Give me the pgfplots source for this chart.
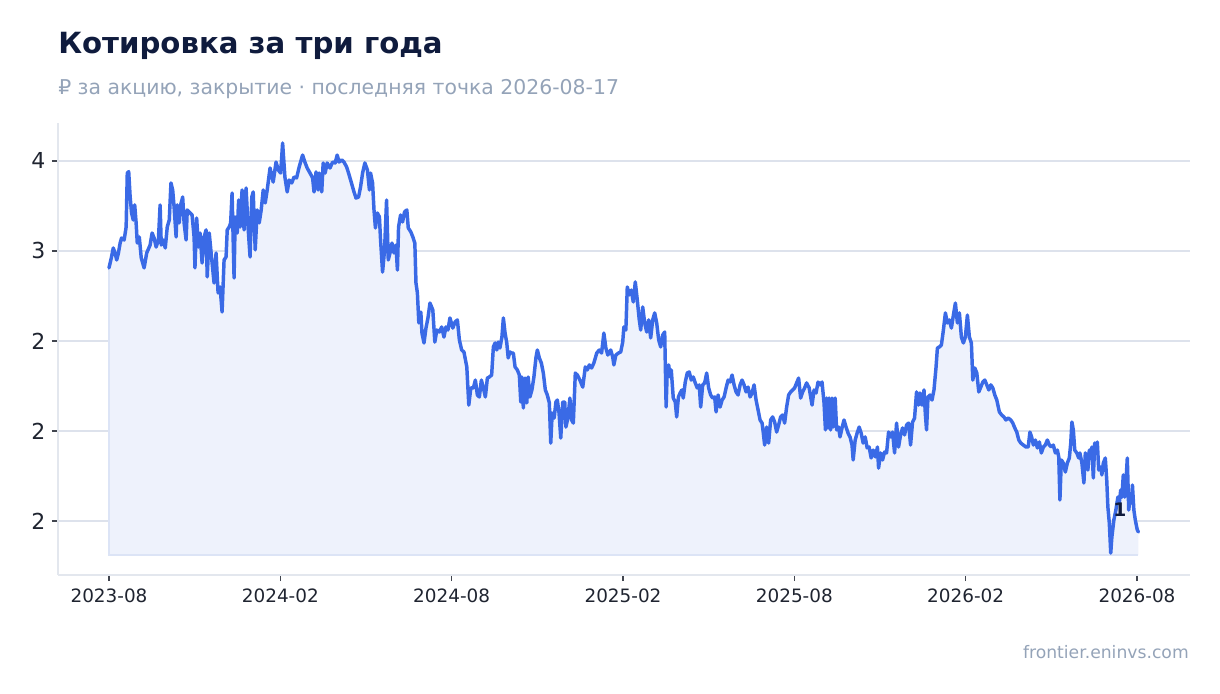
\documentclass[border=0pt]{standalone}
\usepackage{pgfplots}
\pgfplotsset{compat=1.18}
\usepackage{pgfplotstable}
\usepackage{fontspec}
\setmainfont{DejaVu Sans}
\definecolor{linec}{HTML}{3A6AE6}
\definecolor{fillc}{HTML}{EEF2FC}
\definecolor{gridc}{HTML}{DDE2EC}
\definecolor{axisc}{HTML}{E3E7EE}
\definecolor{titlec}{HTML}{0F1B3D}
\definecolor{subc}{HTML}{94A3B8}
\definecolor{tickc}{HTML}{1F2430}
\definecolor{baseedge}{HTML}{DCE4F6}

\pgfplotstableread{
x y
0.00 2.906
0.09 2.968
0.15 3.017
0.21 2.989
0.27 2.950
0.33 2.989
0.39 3.044
0.44 3.072
0.53 3.061
0.60 3.133
0.64 3.433
0.69 3.441
0.74 3.302
0.79 3.211
0.85 3.172
0.90 3.256
0.95 3.156
0.99 3.044
1.06 3.078
1.13 2.961
1.23 2.906
1.32 2.989
1.44 3.033
1.51 3.100
1.58 3.072
1.65 3.022
1.73 3.061
1.79 3.256
1.83 3.033
1.90 3.061
1.97 3.017
2.04 3.133
2.11 3.172
2.17 3.378
2.23 3.339
2.28 3.244
2.35 3.078
2.39 3.256
2.46 3.156
2.51 3.256
2.58 3.300
2.63 3.156
2.70 3.061
2.74 3.228
2.84 3.211
2.91 3.200
2.98 3.078
3.01 2.906
3.07 3.183
3.13 3.022
3.19 3.100
3.26 2.933
3.33 3.078
3.40 3.117
3.44 2.856
3.51 3.100
3.60 2.950
3.68 2.822
3.75 2.989
3.82 2.767
3.89 2.800
3.96 2.661
4.03 2.950
4.10 2.967
4.14 3.117
4.21 3.133
4.26 3.156
4.31 3.322
4.38 2.850
4.42 3.189
4.49 3.100
4.54 3.283
4.59 3.133
4.66 3.339
4.73 3.117
4.80 3.350
4.87 3.133
4.94 2.967
5.00 3.300
5.05 3.328
5.12 3.006
5.19 3.228
5.26 3.156
5.33 3.228
5.40 3.339
5.47 3.267
5.54 3.339
5.64 3.461
5.71 3.411
5.75 3.383
5.85 3.494
5.93 3.450
6.01 3.433
6.08 3.600
6.16 3.411
6.24 3.328
6.31 3.394
6.40 3.378
6.48 3.411
6.57 3.406
6.66 3.467
6.78 3.533
6.86 3.494
6.94 3.461
7.04 3.433
7.13 3.406
7.18 3.328
7.25 3.439
7.32 3.339
7.36 3.433
7.45 3.328
7.50 3.489
7.57 3.433
7.64 3.489
7.74 3.461
7.83 3.494
7.92 3.489
7.99 3.533
8.06 3.494
8.15 3.506
8.23 3.494
8.32 3.467
8.39 3.433
8.49 3.378
8.58 3.328
8.65 3.294
8.74 3.300
8.81 3.356
8.88 3.433
8.96 3.489
9.05 3.450
9.12 3.339
9.16 3.433
9.23 3.378
9.28 3.228
9.33 3.128
9.40 3.211
9.47 3.189
9.51 3.061
9.58 2.883
9.65 3.006
9.72 3.283
9.78 2.950
9.84 2.989
9.91 3.044
9.98 2.989
10.05 3.033
10.10 2.894
10.14 3.133
10.21 3.200
10.28 3.161
10.35 3.217
10.43 3.228
10.48 3.128
10.57 3.106
10.64 3.078
10.71 3.044
10.75 2.822
10.80 2.767
10.85 2.600
10.92 2.661
10.96 2.544
11.03 2.489
11.10 2.572
11.17 2.628
11.24 2.711
11.34 2.672
11.41 2.494
11.48 2.561
11.57 2.550
11.65 2.578
11.73 2.522
11.80 2.578
11.87 2.561
11.94 2.628
12.04 2.572
12.12 2.606
12.20 2.617
12.27 2.506
12.35 2.450
12.43 2.439
12.53 2.356
12.60 2.144
12.67 2.239
12.76 2.239
12.83 2.283
12.90 2.200
12.97 2.189
13.04 2.283
13.11 2.239
13.18 2.189
13.25 2.294
13.32 2.300
13.40 2.311
13.46 2.467
13.52 2.489
13.58 2.450
13.63 2.494
13.69 2.461
13.76 2.522
13.81 2.628
13.87 2.544
13.93 2.489
13.98 2.406
14.04 2.439
14.10 2.433
14.16 2.433
14.22 2.356
14.30 2.339
14.37 2.311
14.42 2.161
14.46 2.300
14.51 2.128
14.57 2.294
14.63 2.156
14.68 2.300
14.74 2.189
14.81 2.228
14.88 2.300
14.95 2.406
15.00 2.450
15.07 2.406
15.14 2.378
15.21 2.322
15.28 2.228
15.35 2.200
15.42 2.156
15.47 1.933
15.52 2.100
15.59 2.072
15.65 2.161
15.70 2.172
15.76 2.100
15.82 1.961
15.89 2.161
15.96 2.161
16.00 2.022
16.07 2.072
16.14 2.183
16.20 2.061
16.26 2.044
16.33 2.322
16.40 2.311
16.49 2.283
16.59 2.244
16.68 2.356
16.75 2.339
16.82 2.367
16.90 2.350
16.98 2.378
17.08 2.433
17.17 2.450
17.25 2.433
17.33 2.544
17.40 2.461
17.47 2.422
17.57 2.450
17.64 2.411
17.68 2.367
17.75 2.422
17.84 2.433
17.92 2.439
17.99 2.494
18.03 2.578
18.10 2.561
18.15 2.800
18.22 2.756
18.29 2.783
18.36 2.717
18.43 2.828
18.50 2.728
18.57 2.617
18.62 2.561
18.69 2.689
18.76 2.600
18.83 2.550
18.90 2.617
18.97 2.517
19.04 2.617
19.11 2.656
19.18 2.600
19.25 2.506
19.32 2.467
19.39 2.533
19.46 2.550
19.51 2.133
19.55 2.339
19.60 2.367
19.65 2.300
19.69 2.339
19.76 2.183
19.83 2.161
19.88 2.078
19.94 2.189
20.00 2.211
20.06 2.228
20.11 2.183
20.18 2.272
20.25 2.322
20.32 2.328
20.39 2.283
20.46 2.300
20.53 2.267
20.60 2.239
20.67 2.256
20.72 2.133
20.79 2.256
20.86 2.267
20.93 2.322
21.00 2.239
21.07 2.200
21.14 2.183
21.21 2.189
21.26 2.106
21.33 2.200
21.40 2.133
21.47 2.172
21.54 2.189
21.61 2.239
21.68 2.283
21.75 2.272
21.82 2.311
21.89 2.256
21.96 2.217
22.03 2.200
22.10 2.256
22.17 2.283
22.24 2.256
22.31 2.217
22.38 2.244
22.45 2.189
22.52 2.211
22.59 2.256
22.66 2.172
22.73 2.117
22.80 2.061
22.87 2.044
22.91 1.994
22.96 1.922
23.03 2.022
23.10 1.933
23.17 2.061
23.24 2.078
23.31 2.050
23.38 1.994
23.45 2.033
23.52 2.078
23.59 2.089
23.66 2.044
23.73 2.133
23.80 2.200
23.87 2.217
23.94 2.228
24.01 2.239
24.08 2.267
24.15 2.294
24.22 2.183
24.29 2.217
24.36 2.239
24.43 2.267
24.52 2.239
24.62 2.144
24.69 2.228
24.76 2.211
24.83 2.272
24.90 2.256
24.97 2.272
25.04 2.156
25.09 2.006
25.13 2.183
25.18 2.017
25.22 2.183
25.27 2.006
25.32 2.183
25.36 2.022
25.43 2.183
25.48 2.006
25.55 2.022
25.60 1.967
25.67 2.017
25.74 2.061
25.81 2.022
25.88 1.989
25.95 1.967
26.02 1.922
26.06 1.839
26.13 1.950
26.20 1.989
26.27 2.022
26.34 1.989
26.41 1.933
26.48 1.967
26.55 1.906
26.62 1.911
26.69 1.850
26.76 1.894
26.84 1.856
26.91 1.911
26.95 1.794
27.02 1.878
27.09 1.839
27.16 1.883
27.23 1.878
27.30 1.994
27.37 1.967
27.44 1.994
27.51 1.878
27.58 2.044
27.65 1.911
27.72 1.978
27.79 2.017
27.86 1.978
27.93 2.033
28.00 2.044
28.07 1.922
28.14 2.050
28.21 2.072
28.28 2.217
28.35 2.144
28.40 2.211
28.47 2.144
28.54 2.228
28.59 2.089
28.63 2.006
28.68 2.189
28.75 2.200
28.82 2.172
28.89 2.228
28.96 2.350
29.01 2.461
29.08 2.467
29.15 2.478
29.22 2.561
29.29 2.656
29.36 2.600
29.43 2.617
29.50 2.572
29.57 2.644
29.64 2.711
29.71 2.600
29.78 2.656
29.85 2.522
29.92 2.489
29.99 2.522
30.06 2.644
30.13 2.522
30.20 2.489
30.25 2.283
30.32 2.350
30.39 2.322
30.46 2.217
30.53 2.244
30.60 2.272
30.67 2.283
30.74 2.256
30.81 2.228
30.88 2.256
30.95 2.239
31.02 2.200
31.09 2.172
31.18 2.106
31.26 2.089
31.34 2.078
31.41 2.061
31.49 2.072
31.58 2.061
31.65 2.044
31.72 2.017
31.79 1.994
31.86 1.950
31.93 1.933
32.02 1.922
32.11 1.911
32.19 1.911
32.25 1.994
32.31 1.967
32.37 1.922
32.44 1.950
32.51 1.906
32.58 1.939
32.65 1.878
32.72 1.911
32.79 1.922
32.86 1.950
32.93 1.922
33.00 1.911
33.07 1.922
33.14 1.878
33.21 1.894
33.26 1.856
33.30 1.617
33.35 1.839
33.42 1.822
33.49 1.772
33.56 1.822
33.63 1.850
33.68 1.933
33.72 2.050
33.77 2.006
33.82 1.894
33.89 1.878
33.96 1.850
34.00 1.878
34.07 1.822
34.14 1.711
34.19 1.878
34.24 1.850
34.28 1.783
34.33 1.894
34.38 1.867
34.42 1.911
34.47 1.739
34.52 1.933
34.56 1.911
34.61 1.939
34.66 1.783
34.73 1.800
34.77 1.756
34.82 1.822
34.89 1.850
34.94 1.728
34.98 1.578
35.03 1.489
35.08 1.322
35.12 1.411
35.19 1.506
35.26 1.561
35.33 1.633
35.38 1.600
35.43 1.672
35.47 1.633
35.52 1.756
35.57 1.633
35.61 1.711
35.66 1.850
35.71 1.561
35.75 1.617
35.80 1.600
35.84 1.700
35.89 1.561
35.94 1.506
36.01 1.450
36.05 1.439
}\pricedata

\begin{document}
\begin{tikzpicture}
\path[use as bounding box] (0,0) rectangle (915pt,519.75pt);
\node[anchor=base west, inner sep=0pt, text=titlec, font=\fontsize{21.9}{26}\selectfont\bfseries] at (43.5pt,479.25pt) {Котировка за три года};
\node[anchor=base west, inner sep=0pt, text=subc, font=\fontsize{15.3}{18}\selectfont] at (43.5pt,448.5pt) {₽ за акцию, закрытие · последняя точка 2026-08-17};
\node[anchor=base east, inner sep=0pt, text=subc, font=\fontsize{12.9}{15}\selectfont] at (891.75pt,26.25pt) {frontier.eninvs.com};
\begin{axis}[
  at={(43.5pt,88.5pt)}, anchor=south west,
  scale only axis, width=849pt, height=339pt,
  xmin=-1.786, xmax=37.856, ymin=1.2, ymax=3.711,
  axis x line*=bottom, axis y line*=left,
  axis line style={draw=axisc, line width=1pt, -},
  xtick={0,6,12,18,24,30,36},
  xticklabels={2023-08,2024-02,2024-08,2025-02,2025-08,2026-02,2026-08},
  ytick={1.5,2,2.5,3,3.5},
  yticklabels={2,2,2,3,4},
  ymajorgrids, grid style={draw=gridc, line width=1pt},
  tick align=outside, major tick length=4.5pt,
  tick style={draw=tickc!85, line width=0.9pt},
  minor tick num=0,
  xticklabel style={font=\fontsize{13.8}{16}\selectfont, text=tickc, yshift=-2pt},
  yticklabel style={font=\fontsize{16.5}{19}\selectfont, text=tickc, xshift=-1.5pt},
]
\addplot[fill=fillc, draw=none, forget plot] table[x=x,y=y] {\pricedata} -- (axis cs:36.05,1.311) -- (axis cs:0,1.311) -- cycle;
\addplot[draw=baseedge, line width=0.8pt, forget plot] coordinates {(0,2.906) (0,1.311) (36.05,1.311)};
\addplot[draw=linec, line width=2.6pt, line join=round, line cap=round, forget plot] table[x=x,y=y] {\pricedata};
\node[text=titlec, font=\fontsize{14}{16}\selectfont\bfseries] at (axis cs:35.40,1.561) {1};
\end{axis}
\end{tikzpicture}
\end{document}
